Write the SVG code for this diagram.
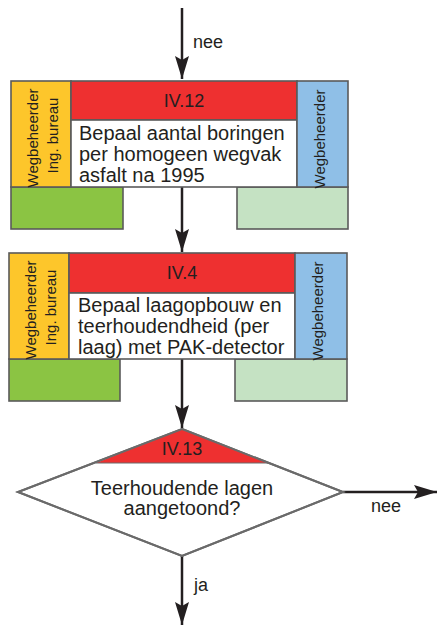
<svg xmlns="http://www.w3.org/2000/svg" width="438" height="626" viewBox="0 0 438 626">
<defs>
<style>
.frame{stroke:#5a5a5a;stroke-width:1.6}
.yel{fill:#fdc62b}
.red{fill:#ee3030}
.wht{fill:#ffffff}
.blu{fill:#8fbfe7}
.grn{fill:#8bc443}
.lgr{fill:#c5e2c3}
.t{font-family:"Liberation Sans",Arial,sans-serif;fill:#231f20}
.body{font-size:20px}
.hdr{font-size:18px;text-anchor:middle}
.rot{font-size:15px;text-anchor:middle}
.lbl{font-size:18px}
.ctr{text-anchor:middle}
.wire{stroke:#231f20;stroke-width:2.5;fill:none}
</style>
<marker id="ah" markerUnits="userSpaceOnUse" markerWidth="26" markerHeight="18" viewBox="-24 -9 26 18" refX="0" refY="0" orient="auto">
<path d="M0,0 L-23,-7 L-19,0 L-23,7 Z" fill="#231f20"/>
</marker>
</defs>

<g id="connectors">
<line class="wire" x1="182" y1="8" x2="182" y2="79" marker-end="url(#ah)"/>
<line class="wire" x1="182" y1="187" x2="182" y2="252" marker-end="url(#ah)"/>
<line class="wire" x1="182" y1="359" x2="182" y2="428" marker-end="url(#ah)"/>
<line class="wire" x1="343" y1="492" x2="437" y2="492" marker-end="url(#ah)"/>
<line class="wire" x1="182" y1="556" x2="182" y2="625" marker-end="url(#ah)"/>
<text class="t lbl" x="193" y="48">nee</text>
<text class="t lbl" x="371" y="512">nee</text>
<text class="t lbl" x="194" y="591">ja</text>
</g>

<g id="n1">
<rect class="grn frame" x="11" y="187" width="112" height="42"/>
<rect class="lgr frame" x="237" y="187" width="111" height="42"/>
<rect class="yel frame" x="11" y="81" width="60" height="106"/>
<rect class="red frame" x="71" y="81" width="226" height="39"/>
<rect class="wht frame" x="71" y="120" width="226" height="67"/>
<rect class="blu frame" x="297" y="81" width="51" height="106"/>
<text class="t hdr" x="184" y="107">IV.12</text>
<text class="t body" x="79" y="140">Bepaal aantal boringen</text>
<text class="t body" x="79" y="161">per homogeen wegvak</text>
<text class="t body" x="79" y="182">asfalt na 1995</text>
<text class="t rot" transform="translate(37.5,138) rotate(-90)">Wegbeheerder</text>
<text class="t rot" transform="translate(57.5,135.5) rotate(-90)">Ing. bureau</text>
<text class="t rot" transform="translate(325,139) rotate(-90)">Wegbeheerder</text>
</g>

<g id="n2">
<rect class="grn frame" x="9" y="359" width="111" height="42"/>
<rect class="lgr frame" x="235" y="359" width="112" height="42"/>
<rect class="yel frame" x="9" y="253" width="60" height="106"/>
<rect class="red frame" x="69" y="253" width="226" height="40"/>
<rect class="wht frame" x="69" y="293" width="226" height="66"/>
<rect class="blu frame" x="295" y="253" width="52" height="106"/>
<text class="t hdr" x="182" y="279">IV.4</text>
<text class="t body" x="78" y="312">Bepaal laagopbouw en</text>
<text class="t body" x="78" y="333">teerhoudendheid (per</text>
<text class="t body" x="78" y="354">laag) met PAK-detector</text>
<text class="t rot" transform="translate(35.5,310) rotate(-90)">Wegbeheerder</text>
<text class="t rot" transform="translate(55.5,307.5) rotate(-90)">Ing. bureau</text>
<text class="t rot" transform="translate(323,311) rotate(-90)">Wegbeheerder</text>
</g>

<g id="n3">
<polygon points="182,429 343,492 182,556 18,492" fill="#ffffff" stroke="#6a6a6a" stroke-width="2"/>
<polygon points="182,429 268,463 96,463" class="red"/>
<line x1="96" y1="463" x2="268" y2="463" stroke="#6a6a6a" stroke-width="1"/>
<polygon points="182,429 343,492 182,556 18,492" fill="none" stroke="#6a6a6a" stroke-width="2"/>
<text class="t hdr" x="182" y="455">IV.13</text>
<text class="t body ctr" x="182" y="495">Teerhoudende lagen</text>
<text class="t body ctr" x="182" y="515">aangetoond?</text>
</g>
</svg>
